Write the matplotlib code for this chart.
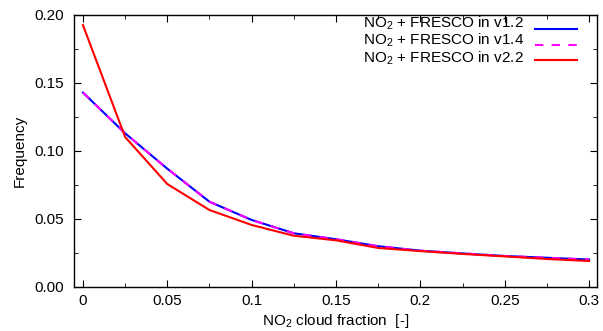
import matplotlib
matplotlib.use("Agg")
import matplotlib.pyplot as plt
from matplotlib.ticker import MultipleLocator
from matplotlib.lines import Line2D

plt.rcParams['font.family'] = ['Liberation Sans', 'DejaVu Sans']
plt.rcParams['mathtext.fontset'] = 'custom'
plt.rcParams['mathtext.rm'] = 'Liberation Sans'

cloud_fraction = [0.0, 0.025, 0.05, 0.075, 0.1, 0.125, 0.15, 0.175, 0.2, 0.225, 0.25, 0.275, 0.3]
freq_v12 = [0.143, 0.113, 0.087, 0.0627, 0.0493, 0.0395, 0.0351, 0.0300, 0.0267, 0.0247, 0.0228, 0.0215, 0.0202]
freq_v14 = [0.143, 0.113, 0.087, 0.0627, 0.0493, 0.0395, 0.0351, 0.0300, 0.0267, 0.0247, 0.0228, 0.0215, 0.0202]
freq_v22 = [0.1926, 0.1103, 0.0757, 0.0566, 0.0456, 0.0377, 0.0343, 0.0287, 0.0264, 0.0243, 0.0225, 0.0206, 0.0191]
labels = [r"NO$_2$ + FRESCO in v1.2", r"NO$_2$ + FRESCO in v1.4", r"NO$_2$ + FRESCO in v2.2"]
xtick_vals = [0, 0.05, 0.1, 0.15, 0.2, 0.25, 0.3]
xtick_labels = ['0', '0.05', '0.1', '0.15', '0.2', '0.25', '0.3']
ytick_vals = [0, 0.05, 0.1, 0.15, 0.2]
ytick_labels = ['0.00', '0.05', '0.10', '0.15', '0.20']

W, H = 603, 331
fig = plt.figure(figsize=(W/100, H/100), dpi=100)
ax = fig.add_axes([74/W, 1-287/H, (597-74)/W, (287-15)/H])

styles = [dict(color='#0000ff', lw=1.5, ls='-'),
          dict(color='#ff00ff', lw=1.5, ls=(0, (4, 4))),
          dict(color='#ff0000', lw=1.5, ls='-')]
series = [freq_v12, freq_v14, freq_v22]
for ys, st, lab in zip(series, styles, labels):
    ax.plot(cloud_fraction, ys, label=lab, **st)

ax.set_xlim(-0.0053, 0.3047)
ax.set_ylim(0, 0.2)
ax.xaxis.set_minor_locator(MultipleLocator(0.025))
ax.yaxis.set_minor_locator(MultipleLocator(0.025))
ax.set_xticks(xtick_vals)
ax.set_xticklabels(xtick_labels)
ax.set_yticks(ytick_vals)
ax.set_yticklabels(ytick_labels)
ax.tick_params(which='both', direction='in', top=True, right=True, labelsize=11)
ax.tick_params(axis='y', pad=7)
ax.tick_params(axis='x', pad=5)
ax.tick_params(which='major', length=5)
ax.tick_params(which='minor', length=3)
for s in ax.spines.values():
    s.set_linewidth(1.0)

ax.set_xlabel(r"NO$_2$ cloud fraction  [-]", fontsize=11, labelpad=3)
ax.set_ylabel("Frequency", fontsize=11, labelpad=6)

# gnuplot-style key: right-aligned text block, sample lines to the right
fig.text(524/W, 1-62.3/H, "\n".join(labels), ha='right', va='baseline',
         multialignment='right', fontsize=11, linespacing=1.0)
line_y = [29, 44.5, 60]
for st, yl in zip(styles, line_y):
    fig.add_artist(Line2D([535/W, 577/W], [1-yl/H, 1-yl/H], transform=fig.transFigure, **st))

fig.savefig("out.png", dpi=100)
